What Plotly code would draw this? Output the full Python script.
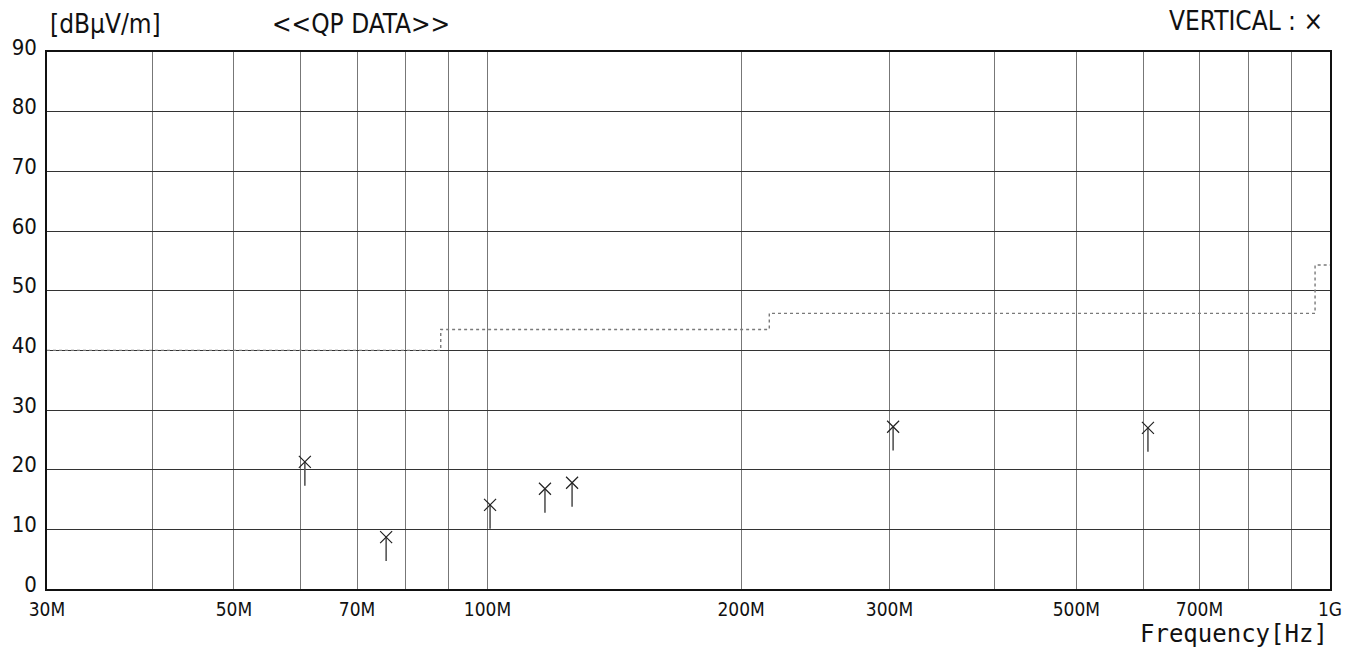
import plotly.graph_objects as go

# ---- data (frequencies in MHz, levels in dBuV/m) ----
qp_freq_mhz = [60.7, 75.8, 100.7, 117.0, 126.0, 303.0, 608.0]
qp_level = [21.3, 8.7, 14.1, 16.8, 17.8, 27.2, 27.0]
stick_len_db = 4.0

limit_freq_mhz = [30, 88, 216, 960, 1000]
limit_level = [40, 43.5, 46.2, 54.3, 54.3]

grid_freq_mhz = [30, 40, 50, 60, 70, 80, 90, 100, 200, 300, 400, 500, 600, 700, 800, 900, 1000]
grid_text = ["30M", "", "50M", "", "70M", "", "", "100M", "200M", "300M", "", "500M", "", "700M", "", "", "1G"]
y_ticks = [0, 10, 20, 30, 40, 50, 60, 70, 80, 90]

FONT = "DejaVu Sans Condensed, Liberation Sans Narrow, sans-serif"

fig = go.Figure()

fig.add_trace(go.Scatter(
    x=limit_freq_mhz, y=limit_level, mode="lines",
    line=dict(color="#7a7a7a", width=1.4, dash="dot", shape="hv"),
    hoverinfo="skip", showlegend=False,
))

fig.add_trace(go.Scatter(
    x=qp_freq_mhz, y=qp_level, mode="markers",
    marker=dict(symbol="x-thin", size=12, line=dict(color="#222", width=1.2)),
    error_y=dict(type="constant", symmetric=False, value=0, valueminus=stick_len_db,
                 thickness=1.6, width=0, color="#555"),
    showlegend=False,
))

fig.update_xaxes(
    type="log", range=[1.4771213, 3.0], automargin=False,
    tickmode="array", tickvals=grid_freq_mhz, ticktext=grid_text,
    showgrid=True, gridcolor="#777", gridwidth=1,
    showline=True, linecolor="#111", linewidth=1.5, mirror=True,
    ticks="", zeroline=False, ticklabelstandoff=2,
    tickfont=dict(family=FONT, size=19, color="#111"),
)
fig.update_yaxes(
    range=[0, 90], tickmode="array", tickvals=y_ticks, automargin=False,
    showgrid=True, gridcolor="#333", gridwidth=1,
    showline=True, linecolor="#111", linewidth=1.5, mirror=True,
    ticks="", zeroline=False, ticklabelshift=-5, ticklabelstandoff=4,
    tickfont=dict(family=FONT, size=22, color="#111"),
)

fig.update_layout(
    width=1362, height=653,
    margin=dict(l=47, r=32, t=52, b=64),
    paper_bgcolor="white", plot_bgcolor="white",
    font=dict(family=FONT, color="#111"),
    annotations=[
        dict(text="[dBμV/m]", xref="paper", yref="paper", x=0.001, y=1.053,
             xanchor="left", yanchor="middle", showarrow=False,
             font=dict(family=FONT, size=26)),
        dict(text="<<QP DATA>>", xref="paper", yref="paper", x=0.174, y=1.053,
             xanchor="left", yanchor="middle", showarrow=False,
             font=dict(family=FONT, size=26)),
        dict(text="VERTICAL : ×", xref="paper", yref="paper", x=0.996, y=1.057,
             xanchor="right", yanchor="middle", showarrow=False,
             font=dict(family=FONT, size=26)),
        dict(text="Frequency[Hz]", xref="paper", yref="paper", x=1.0, y=-0.083,
             xanchor="right", yanchor="middle", showarrow=False,
             font=dict(family="DejaVu Sans Mono, monospace", size=24)),
    ],
)

fig.write_html("out.html", config={"displayModeBar": False},
               post_script="document.body.style.margin='0px';")
